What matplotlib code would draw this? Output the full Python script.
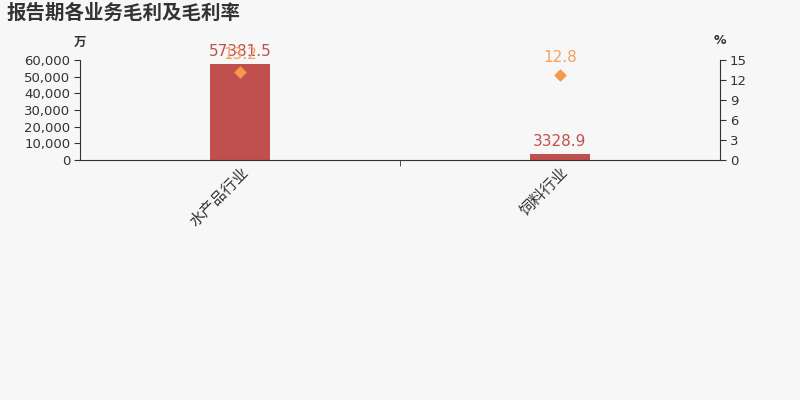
import matplotlib
matplotlib.use("Agg")
import matplotlib.pyplot as plt
from matplotlib.ticker import FuncFormatter

plt.rcParams['font.family'] = ['Noto Sans CJK SC', 'DejaVu Sans']

categories = ['水产品行业', '饲料行业']
gross_profit = [57381.5, 3328.9]   # 万
gross_margin = [13.2, 12.8]        # %
profit_labels = ['57381.5', '3328.9']
margin_labels = ['13.2', '12.8']

bg = '#f7f7f7'
bar_color = '#c0504d'
dot_color = '#f39a4e'
axis_color = '#333333'

fig = plt.figure(figsize=(8, 4), dpi=100, facecolor=bg)
ax = fig.add_axes([0.1, 0.6, 0.8, 0.25])
ax.set_facecolor(bg)
x = list(range(len(categories)))
ax.bar(x, gross_profit, width=0.1875, color=bar_color, zorder=2)
ax.set_xlim(-0.5, len(categories) - 0.5)
ax.set_ylim(0, 60000)
ax.set_yticks(range(0, 60001, 10000))
ax.yaxis.set_major_formatter(FuncFormatter(lambda v, p: f'{int(v):,}'))
ax.tick_params(axis='y', labelsize=9.5, colors=axis_color, length=4, pad=3)
for lbl in ax.get_yticklabels():
    lbl.set_family('DejaVu Sans')

ax.set_xticks(x)
ax.set_xticklabels(categories, rotation=45, ha='right', rotation_mode='anchor',
                   fontsize=11, color='#333333')
ax.tick_params(axis='x', length=0, pad=3)
ax.set_xticks([i + 0.5 for i in range(len(categories) - 1)], minor=True)
ax.tick_params(axis='x', which='minor', length=4, color=axis_color)

for s in ['top', 'right']:
    ax.spines[s].set_visible(False)
ax.spines['left'].set_color(axis_color)
ax.spines['bottom'].set_color(axis_color)

for xi, v, t in zip(x, gross_profit, profit_labels):
    ax.annotate(t, (xi, v), xytext=(0, 4), textcoords='offset points',
                ha='center', va='bottom', fontsize=11, color=bar_color,
                family='DejaVu Sans')

ax2 = ax.twinx()
ax2.set_ylim(0, 15)
ax2.set_yticks(range(0, 16, 3))
ax2.scatter(x, gross_margin, marker='D', s=30, color=dot_color, zorder=3)
ax2.tick_params(axis='y', labelsize=9.5, colors=axis_color, length=4, pad=3)
for lbl in ax2.get_yticklabels():
    lbl.set_family('DejaVu Sans')
for s in ['top', 'left', 'bottom']:
    ax2.spines[s].set_visible(False)
ax2.spines['right'].set_color(axis_color)

for xi, v, t in zip(x, gross_margin, margin_labels):
    ax2.annotate(t, (xi, v), xytext=(0, 7), textcoords='offset points',
                 ha='center', va='bottom', fontsize=11, color='#f5a35c',
                 family='DejaVu Sans')

fig.text(0.1, 0.895, '万', ha='center', va='center', fontsize=9, color=axis_color, weight='bold')
fig.text(0.9, 0.9, '%', ha='center', va='center', fontsize=9, color=axis_color, weight='bold',
         family='DejaVu Sans')
fig.text(0.008, 0.968, '报告期各业务毛利及毛利率', ha='left', va='center',
         fontsize=14, weight='bold', color='#333333')

fig.savefig('out.png', dpi=100, facecolor=bg)
